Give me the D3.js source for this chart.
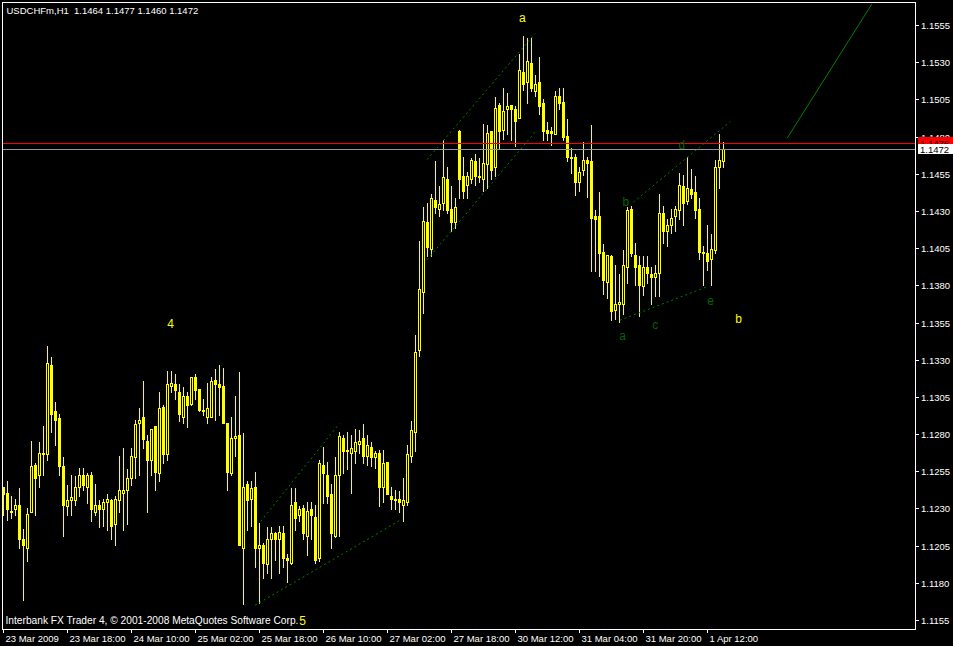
<!DOCTYPE html>
<html><head><meta charset="utf-8">
<script src="https://cdn.jsdelivr.net/npm/d3@7"></script>
<style>html,body{margin:0;padding:0;background:#000;overflow:hidden}svg{display:block}text{white-space:pre}</style>
</head><body><svg id="c" width="953" height="646"></svg>
<script>
// ---- data (USDCHFm H1, bar index 0 = 23 Mar 2009 00:00) ----
const openPrices = [1.1245,1.1241,1.1229,1.1230,1.1233,1.1210,1.1204,1.1228,1.1260,1.1253,
1.1268,1.1267,1.1327,1.1296,1.1291,1.1259,1.1232,1.1236,1.1236,1.1245,
1.1253,1.1245,1.1253,1.1228,1.1233,1.1230,1.1235,1.1236,1.1220,1.1236,
1.1241,1.1243,1.1251,1.1265,1.1288,1.1292,1.1276,1.1263,1.1286,1.1254,
1.1299,1.1267,1.1313,1.1314,1.1309,1.1292,1.1306,1.1301,1.1319,1.1311,
1.1297,1.1292,1.1292,1.1317,1.1314,1.1313,1.1288,1.1254,1.1278,1.1280,
1.1204,1.1247,1.1237,1.1245,1.1204,1.1206,1.1193,1.1210,1.1214,1.1210,
1.1214,1.1197,1.1194,1.1235,1.1226,1.1231,1.1212,1.1230,1.1225,1.1197,
1.1260,1.1253,1.1240,1.1212,1.1253,1.1278,1.1269,1.1268,1.1269,1.1274,
1.1278,1.1266,1.1272,1.1265,1.1268,1.1245,1.1262,1.1239,1.1237,1.1237,
1.1233,1.1235,1.1266,1.1282,1.1337,1.1376,1.1423,1.1405,1.1438,1.1432,
1.1436,1.1452,1.1432,1.1423,1.1484,1.1454,1.1448,1.1452,1.1464,1.1454,
1.1452,1.1462,1.1484,1.1460,1.1502,1.1485,1.1499,1.1502,1.1499,1.1493,
1.1524,1.1517,1.1530,1.1511,1.1517,1.1503,1.1485,1.1484,1.1482,1.1508,
1.1504,1.1481,1.1467,1.1467,1.1450,1.1458,1.1465,1.1464,1.1427,1.1427,
1.1403,1.1383,1.1400,1.1364,1.1368,1.1368,1.1393,1.1432,1.1401,1.1394,
1.1380,1.1393,1.1388,1.1386,1.1389,1.1429,1.1417,1.1421,1.1427,1.1431,
1.1447,1.1437,1.1445,1.1443,1.1432,1.1403,1.1402,1.1398,1.1404,1.1460,
1.1464];
const highPrices = [1.1245,1.1249,1.1239,1.1237,1.1244,1.1217,1.1231,1.1276,1.1261,1.1275,
1.1286,1.1340,1.1332,1.1302,1.1294,1.1265,1.1246,1.1253,1.1252,1.1258,
1.1258,1.1254,1.1255,1.1247,1.1236,1.1237,1.1240,1.1237,1.1239,1.1266,
1.1271,1.1257,1.1271,1.1290,1.1298,1.1316,1.1280,1.1284,1.1286,1.1309,
1.1300,1.1323,1.1323,1.1321,1.1314,1.1312,1.1309,1.1319,1.1321,1.1311,
1.1304,1.1315,1.1319,1.1324,1.1327,1.1325,1.1288,1.1292,1.1306,1.1322,
1.1281,1.1249,1.1249,1.1255,1.1221,1.1207,1.1218,1.1218,1.1215,1.1219,
1.1219,1.1200,1.1244,1.1244,1.1232,1.1233,1.1235,1.1235,1.1233,1.1263,
1.1272,1.1262,1.1247,1.1265,1.1282,1.1280,1.1282,1.1280,1.1284,1.1283,
1.1287,1.1280,1.1275,1.1269,1.1270,1.1270,1.1262,1.1245,1.1243,1.1242,
1.1251,1.1273,1.1289,1.1347,1.1410,1.1433,1.1436,1.1442,1.1464,1.1447,
1.1478,1.1460,1.1447,1.1439,1.1485,1.1467,1.1457,1.1466,1.1469,1.1466,
1.1489,1.1488,1.1484,1.1507,1.1503,1.1513,1.1510,1.1502,1.1501,1.1536,
1.1548,1.1547,1.1547,1.1522,1.1534,1.1506,1.1490,1.1487,1.1511,1.1513,
1.1513,1.1492,1.1473,1.1469,1.1460,1.1477,1.1467,1.1488,1.1431,1.1443,
1.1408,1.1401,1.1401,1.1394,1.1388,1.1404,1.1433,1.1434,1.1409,1.1400,
1.1400,1.1400,1.1393,1.1394,1.1442,1.1434,1.1425,1.1432,1.1434,1.1456,
1.1455,1.1467,1.1459,1.1454,1.1439,1.1407,1.1421,1.1415,1.1465,1.1482,
1.1477];
const lowPrices = [1.1226,1.1223,1.1224,1.1226,1.1204,1.1169,1.1195,1.1228,1.1226,1.1245,
1.1253,1.1263,1.1282,1.1273,1.1253,1.1212,1.1226,1.1226,1.1233,1.1239,
1.1243,1.1234,1.1222,1.1226,1.1218,1.1219,1.1216,1.1210,1.1206,1.1228,
1.1216,1.1220,1.1246,1.1251,1.1253,1.1271,1.1228,1.1253,1.1243,1.1249,
1.1261,1.1263,1.1309,1.1304,1.1289,1.1288,1.1285,1.1300,1.1304,1.1296,
1.1293,1.1288,1.1292,1.1290,1.1293,1.1288,1.1243,1.1253,1.1266,1.1206,
1.1166,1.1216,1.1219,1.1191,1.1167,1.1184,1.1187,1.1184,1.1196,1.1187,
1.1191,1.1181,1.1193,1.1216,1.1222,1.1210,1.1199,1.1210,1.1194,1.1195,
1.1234,1.1234,1.1204,1.1211,1.1212,1.1254,1.1257,1.1241,1.1261,1.1268,
1.1261,1.1260,1.1259,1.1258,1.1232,1.1235,1.1240,1.1230,1.1230,1.1228,
1.1222,1.1233,1.1262,1.1269,1.1333,1.1362,1.1400,1.1400,1.1429,1.1427,
1.1431,1.1429,1.1417,1.1419,1.1439,1.1439,1.1439,1.1449,1.1448,1.1450,
1.1444,1.1446,1.1452,1.1454,1.1472,1.1479,1.1482,1.1478,1.1474,1.1493,
1.1512,1.1503,1.1511,1.1508,1.1496,1.1478,1.1478,1.1475,1.1482,1.1499,
1.1478,1.1464,1.1456,1.1441,1.1444,1.1455,1.1440,1.1390,1.1390,1.1387,
1.1375,1.1372,1.1357,1.1358,1.1356,1.1361,1.1382,1.1400,1.1381,1.1360,
1.1374,1.1382,1.1368,1.1373,1.1373,1.1409,1.1407,1.1416,1.1417,1.1425,
1.1421,1.1435,1.1439,1.1426,1.1398,1.1381,1.1391,1.1381,1.1402,1.1446,
1.1460];
const closePrices = [1.1240,1.1230,1.1228,1.1233,1.1210,1.1206,1.1227,1.1259,1.1251,1.1268,
1.1267,1.1328,1.1294,1.1290,1.1259,1.1233,1.1236,1.1238,1.1245,1.1253,
1.1246,1.1253,1.1230,1.1233,1.1230,1.1235,1.1237,1.1219,1.1237,1.1243,
1.1243,1.1251,1.1266,1.1287,1.1290,1.1277,1.1263,1.1284,1.1255,1.1298,
1.1267,1.1314,1.1315,1.1310,1.1294,1.1306,1.1300,1.1319,1.1310,1.1297,
1.1296,1.1298,1.1316,1.1314,1.1312,1.1288,1.1255,1.1278,1.1279,1.1206,
1.1245,1.1236,1.1244,1.1204,1.1206,1.1194,1.1210,1.1214,1.1210,1.1215,
1.1197,1.1196,1.1233,1.1224,1.1230,1.1214,1.1229,1.1226,1.1196,1.1261,
1.1254,1.1239,1.1214,1.1253,1.1279,1.1269,1.1270,1.1271,1.1275,1.1276,
1.1266,1.1273,1.1265,1.1268,1.1245,1.1261,1.1240,1.1237,1.1236,1.1235,
1.1236,1.1267,1.1283,1.1336,1.1378,1.1424,1.1406,1.1439,1.1433,1.1435,
1.1453,1.1431,1.1423,1.1433,1.1452,1.1444,1.1454,1.1465,1.1454,1.1453,
1.1463,1.1483,1.1458,1.1500,1.1484,1.1498,1.1501,1.1499,1.1491,1.1525,
1.1516,1.1531,1.1513,1.1516,1.1501,1.1484,1.1483,1.1483,1.1508,1.1503,
1.1480,1.1467,1.1466,1.1450,1.1457,1.1465,1.1463,1.1426,1.1425,1.1402,
1.1384,1.1401,1.1363,1.1368,1.1369,1.1394,1.1431,1.1402,1.1393,1.1381,
1.1393,1.1389,1.1386,1.1389,1.1429,1.1417,1.1421,1.1426,1.1432,1.1448,
1.1436,1.1446,1.1442,1.1431,1.1403,1.1402,1.1397,1.1405,1.1460,1.1465,
1.1472];

const xTickIndex  = [0,16,32,48,64,80,96,112,128,144,160,176];
const xTickLabels = ["23 Mar 2009","23 Mar 18:00","24 Mar 10:00","25 Mar 02:00","25 Mar 18:00","26 Mar 10:00",
                     "27 Mar 02:00","27 Mar 18:00","30 Mar 12:00","31 Mar 04:00","31 Mar 20:00","1 Apr 12:00"];
const yTickValues = [1.1155,1.1180,1.1205,1.1230,1.1255,1.1280,1.1305,1.1330,1.1355,1.1380,1.1405,1.1430,1.1455,1.1480,1.1505,1.1530,1.1555];

const chartTitle = "USDCHFm,H1";
const bidPrice = 1.1472;
const askPrice = 1.1476;
const copyrightText = "Interbank FX Trader 4, \u00A9 2001-2008 MetaQuotes Software Corp.";

// trend-line objects: (bar index, price) -> (bar index, price)
const lineStartIdx   = [64.3, 62.9, 105.9, 105.9, 157.45, 154.1, 195.9];
const lineStartPrice = [1.12220, 1.11656, 1.14652, 1.13978, 1.14365, 1.13572, 1.14795];
const lineEndIdx     = [83.95, 99.55, 132.9, 132.9, 181.7, 176.2, 217.05];
const lineEndPrice   = [1.12877, 1.12234, 1.15499, 1.14837, 1.14907, 1.13800, 1.15696];
const lineKind       = ["dot","dot","dot","dot","dot","dot","solid"];

// wave-count text objects
const labelText   = ["4","5","a","b","a","b","c","d","e"];
const labelIdx    = [41.8, 74.75, 129.7, 183.75, 154.75, 155.6, 162.95, 169.6, 176.75];
const labelPrice  = [1.13522, 1.11521, 1.15577, 1.13553, 1.13437, 1.14338, 1.13511, 1.14723, 1.13672];
const labelDegree = ["major","major","major","major","minor","minor","minor","minor","minor"];

// ---- drawing ----
const W = 953, H = 646;
const FONT = '"Liberation Sans", Arial, sans-serif';
const YELLOW = "#ffff00";
const svg = d3.select("#c");
svg.append("rect").attr("width", W).attr("height", H).attr("fill", "#000");

const x = d3.scaleLinear().domain([0, 180]).range([3, 723]);
const y = d3.scaleLinear().domain([1.1155, 1.1555]).range([621, 26]);
const row = v => Math.round(y(v) - 0.25);
const fmt = d3.format(".4f");
const ra = row(askPrice), rb = row(bidPrice);

const defs = svg.append("defs");
defs.append("clipPath").attr("id", "plot")
  .append("rect").attr("x", 3).attr("y", 3).attr("width", 912).attr("height", 626);
// visible parts of the stacked price labels on the right scale
defs.append("clipPath").attr("id", "aboveAsk")
  .append("rect").attr("x", 915).attr("y", 0).attr("width", 38).attr("height", ra - 6);
defs.append("clipPath").attr("id", "aboveBid")
  .append("rect").attr("x", 915).attr("y", ra - 6).attr("width", 38).attr("height", (rb - 5) - (ra - 6));

const plot = svg.append("g").attr("clip-path", "url(#plot)");

const idx = d3.range(closePrices.length);
const cg = plot.append("g").attr("shape-rendering", "crispEdges");
cg.selectAll("line.wick").data(idx).join("line").attr("class", "wick")
  .attr("x1", i => x(i) + 0.5).attr("x2", i => x(i) + 0.5)
  .attr("y1", i => row(highPrices[i])).attr("y2", i => row(lowPrices[i]) + 1)
  .attr("stroke", YELLOW).attr("stroke-width", 1);

idx.forEach(i => {
  const ro = row(openPrices[i]), rc = row(closePrices[i]);
  if (rc < ro) { // bull: hollow
    cg.append("rect").attr("x", x(i) - 0.5).attr("y", rc + 0.5)
      .attr("width", 2).attr("height", ro - rc)
      .attr("fill", "#000").attr("stroke", YELLOW).attr("stroke-width", 1);
  } else { // bear or doji: filled
    cg.append("rect").attr("x", x(i) - 1).attr("y", ro)
      .attr("width", 3).attr("height", rc - ro + 1).attr("fill", YELLOW);
  }
});

// ask / bid lines
plot.append("line").attr("x1", 3).attr("x2", 915)
  .attr("y1", ra + 0.5).attr("y2", ra + 0.5)
  .attr("stroke", "#ff0000").attr("shape-rendering", "crispEdges");
plot.append("line").attr("x1", 3).attr("x2", 915)
  .attr("y1", rb + 0.5).attr("y2", rb + 0.5)
  .attr("stroke", "#8c99a8").attr("shape-rendering", "crispEdges");

// trend lines
plot.selectAll("line.trend").data(d3.range(lineKind.length)).join("line").attr("class", "trend")
  .attr("x1", i => x(lineStartIdx[i]) + 0.5).attr("y1", i => y(lineStartPrice[i]))
  .attr("x2", i => x(lineEndIdx[i]) + 0.5).attr("y2", i => y(lineEndPrice[i]))
  .attr("stroke", "#008000").attr("stroke-width", 1)
  .attr("stroke-dasharray", i => lineKind[i] === "dot" ? "2,3" : null);

// wave labels
plot.selectAll("text.wave").data(d3.range(labelText.length)).join("text").attr("class", "wave")
  .attr("x", i => x(labelIdx[i]) + 0.5).attr("y", i => y(labelPrice[i]))
  .attr("text-anchor", "middle")
  .attr("font-family", FONT).attr("font-size", 12)
  .attr("fill", i => labelDegree[i] === "major" ? YELLOW : "#006400")
  .text(i => labelText[i]);

// title and copyright
svg.append("text").attr("x", 6.5).attr("y", 14).attr("fill", "#fff")
  .attr("font-family", FONT).attr("font-size", 9.5)
  .text(chartTitle + "  " + [openPrices[180], highPrices[180], lowPrices[180], closePrices[180]].map(fmt).join(" "));
svg.append("text").attr("x", 5.5).attr("y", 624).attr("fill", "#fff")
  .attr("font-family", FONT).attr("font-size", 10.2).text(copyrightText);

// frame
svg.append("rect").attr("x", 2.5).attr("y", 2.5).attr("width", 913).attr("height", 627)
  .attr("fill", "none").attr("stroke", "#fff").attr("shape-rendering", "crispEdges");

// x axis
const gx = svg.append("g").attr("transform", "translate(0,629)")
  .call(d3.axisBottom(x).tickValues(xTickIndex).tickFormat((d, i) => xTickLabels[i]).tickSize(4));
gx.select(".domain").remove();
gx.attr("font-family", FONT).attr("font-size", 9.5);
gx.selectAll(".tick line").attr("stroke", "#fff").attr("shape-rendering", "crispEdges");
gx.selectAll(".tick text").attr("fill", "#fff").attr("text-anchor", "start")
  .attr("x", 2).attr("y", 12.5).attr("dy", null);

// y axis
const gy = svg.append("g").attr("transform", "translate(915,-1)")
  .call(d3.axisRight(y).tickValues(yTickValues).tickFormat(fmt).tickSize(4));
gy.select(".domain").remove();
gy.attr("font-family", FONT).attr("font-size", 9.5);
gy.selectAll(".tick").attr("transform", d => `translate(0,${Math.round(y(d)) + 0.5})`);
gy.selectAll(".tick line").attr("stroke", "#fff").attr("shape-rendering", "crispEdges");
gy.selectAll(".tick text").attr("fill", "#fff").attr("x", 6).attr("dy", "0.35em");
// the tick label hidden behind the ask box is only shown above it
gy.selectAll(".tick").filter(d => Math.abs(d - askPrice) < 0.0008)
  .select("text").attr("clip-path", "url(#aboveAskLocal)");
gy.selectAll(".tick").filter(d => Math.abs(d - askPrice) < 0.0008).each(function(d) {
  const tickRow = Math.round(y(d)) - 1;
  d3.select(this).append("clipPath").attr("id", "aboveAskLocal")
    .append("rect").attr("x", 0).attr("y", -20).attr("width", 40).attr("height", (ra - 6) - tickRow + 20);
});

// price labels on the axis
svg.append("rect").attr("x", 918).attr("y", ra - 6).attr("width", 35).attr("height", 11).attr("fill", "#ff0000");
svg.append("text").attr("x", 920).attr("y", ra + 3.5).attr("fill", "#000")
  .attr("clip-path", "url(#aboveBid)")
  .attr("font-family", FONT).attr("font-size", 9.5).text(fmt(askPrice));
svg.append("rect").attr("x", 918).attr("y", rb - 5).attr("width", 35).attr("height", 10).attr("fill", "#ffffff");
svg.append("text").attr("x", 920).attr("y", rb + 3.5).attr("fill", "#000")
  .attr("font-family", FONT).attr("font-size", 9.5).text(fmt(bidPrice));
</script>
</body></html>
